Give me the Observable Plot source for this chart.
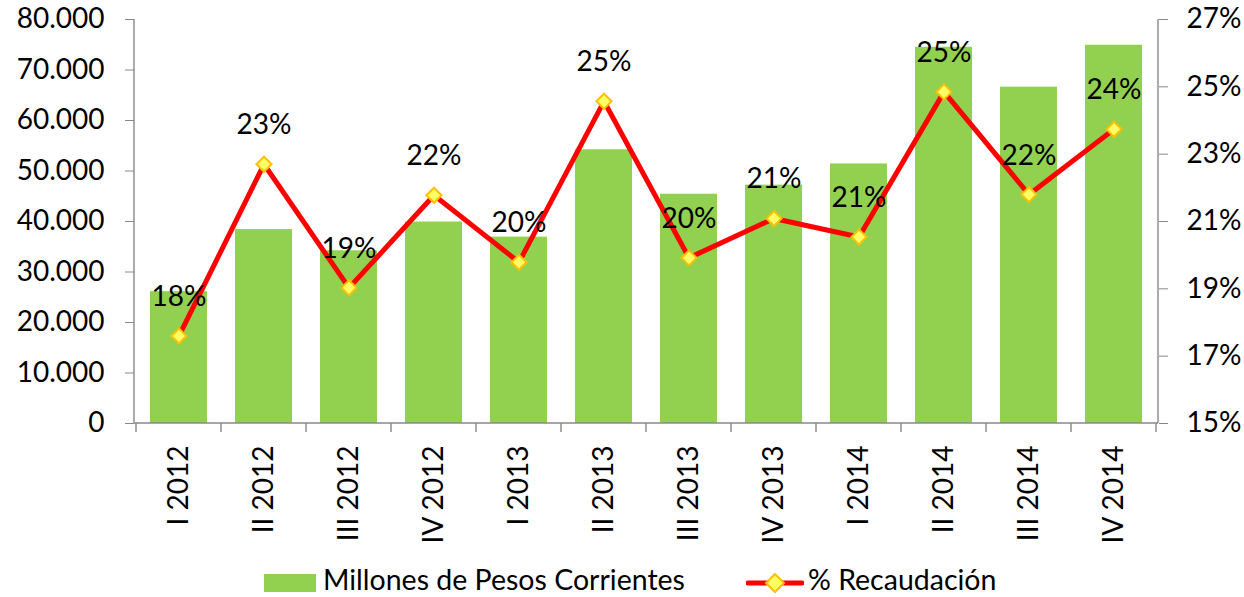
<!DOCTYPE html>
<html>
<head>
<meta charset="utf-8">
<script src="https://cdn.jsdelivr.net/npm/d3@7"></script>
<script src="https://cdn.jsdelivr.net/npm/@observablehq/plot@0.6"></script>
<style>
  html, body { margin: 0; padding: 0; background: #fff; }
  #chart { width: 1244px; }
  #legend { position: relative; width: 1244px; height: 44px; font-family: Lato, sans-serif; font-size: 28.5px; color: #000; }
  .item { position: absolute; top: 9px; display: flex; align-items: center; height: 34px; white-space: nowrap; }
  .item span.lbl { display: inline-block; height: 34px; line-height: 34px; }
  .swatch { display: inline-block; width: 52px; height: 18px; background: #92D050; margin-right: 7px; margin-top: 8px; }
  .lsym { margin-right: 4px; margin-top: 8px; }
</style>
</head>
<body>
<div id="chart"></div>
<div id="legend">
  <div class="item" style="left:264px"><span class="swatch"></span><span class="lbl">Millones de Pesos Corrientes</span></div>
  <div class="item" style="left:746px">
    <svg class="lsym" width="58" height="24">
      <line x1="2" y1="12" x2="56" y2="12" stroke="#FF0000" stroke-width="5" stroke-linecap="round"></line>
      <path d="M29,3 L38,12 L29,21 L20,12 Z" fill="#FFFF66" stroke="#FFC000" stroke-width="2"></path>
    </svg>
    <span class="lbl">% Recaudación</span>
  </div>
</div>
<script>
const categories = ["I 2012", "II 2012", "III 2012", "IV 2012", "I 2013", "II 2013", "III 2013", "IV 2013", "I 2014", "II 2014", "III 2014", "IV 2014"];
const millones = [26100, 38400, 34200, 39900, 36900, 54200, 45400, 47200, 51400, 74500, 66600, 74900];
const recaudacion = [17.6, 22.7, 19.03, 21.78, 19.79, 24.57, 19.92, 21.09, 20.54, 24.85, 21.8, 23.74];
const leftTicks = [0, 10000, 20000, 30000, 40000, 50000, 60000, 70000, 80000];
const rightTicks = [15, 17, 19, 21, 23, 25, 27];

const yMax = 80000, pMin = 15, pMax = 27;
const toY = p => (p - pMin) / (pMax - pMin) * yMax;
const fromY = v => v / yMax * (pMax - pMin) + pMin;

const data = categories.map((c, i) => ({cat: c, m: millones[i], p: recaudacion[i]}));

const axisColor = "#888888";

function frameAxes(index, scales, values, dims) {
  const x = scales.x, y = scales.y;
  const bw = typeof x.bandwidth === "function" ? x.bandwidth() : x.bandwidth;
  const step = x(categories[1]) - x(categories[0]);
  const off = (step - bw) / 2;
  const x0 = dims.marginLeft, x1 = dims.width - dims.marginRight;
  const y0 = y(0), yt = y(yMax);
  const g = d3.create("svg:g").attr("stroke", axisColor).attr("stroke-width", 1.4).attr("fill", "none");
  g.append("line").attr("x1", x0).attr("x2", x0).attr("y1", yt).attr("y2", y0);
  g.append("line").attr("x1", x1).attr("x2", x1).attr("y1", yt).attr("y2", y0);
  g.append("line").attr("x1", x0).attr("x2", x1).attr("y1", y0).attr("y2", y0);
  const bounds = categories.map(c => x(c) - off);
  bounds.push(x(categories[categories.length - 1]) - off + step);
  for (const b of bounds) {
    g.append("line").attr("x1", b).attr("x2", b).attr("y1", y0).attr("y2", y0 + 9);
  }
  return g.node();
}

const fmtThousands = d => d3.format(",")(d).replace(/,/g, ".");

const chart = Plot.plot({
  width: 1244,
  height: 553,
  marginLeft: 134,
  marginRight: 86,
  marginTop: 19,
  marginBottom: 130,
  style: {fontFamily: "Lato, sans-serif", fontSize: "28px", color: "#000", background: "#fff", overflow: "visible"},
  x: {domain: categories, paddingInner: 0.335, paddingOuter: 0.168, axis: null},
  y: {domain: [0, yMax], axis: null},
  marks: [
    Plot.barY(data, {x: "cat", y: "m", fill: "#92D050"}),
    frameAxes,
    Plot.axisY({anchor: "left", ticks: leftTicks, tickFormat: fmtThousands, tickSize: 9, tickPadding: 21, stroke: axisColor, label: null}),
    Plot.axisY({anchor: "right", ticks: rightTicks.map(toY), tickFormat: v => Math.round(fromY(v)) + "%", tickSize: 9, tickPadding: 19, stroke: axisColor, label: null}),
    Plot.axisX({anchor: "bottom", tickRotate: -90, tickSize: 0, tickPadding: 22, label: null}),
    Plot.lineY(data, {x: "cat", y: d => toY(d.p), stroke: "#FF0000", strokeWidth: 5, strokeLinejoin: "miter", strokeLinecap: "round"}),
    Plot.dot(data, {x: "cat", y: d => toY(d.p), symbol: "diamond2", r: 6.8, fill: "#FFFF66", stroke: "#FFC000", strokeWidth: 2}),
    Plot.text(data, {x: "cat", y: d => toY(d.p), text: d => Math.round(d.p) + "%", dy: -39, fill: "#000", fontSize: 28})
  ]
});

document.getElementById("chart").appendChild(chart);
</script>
</body>
</html>
